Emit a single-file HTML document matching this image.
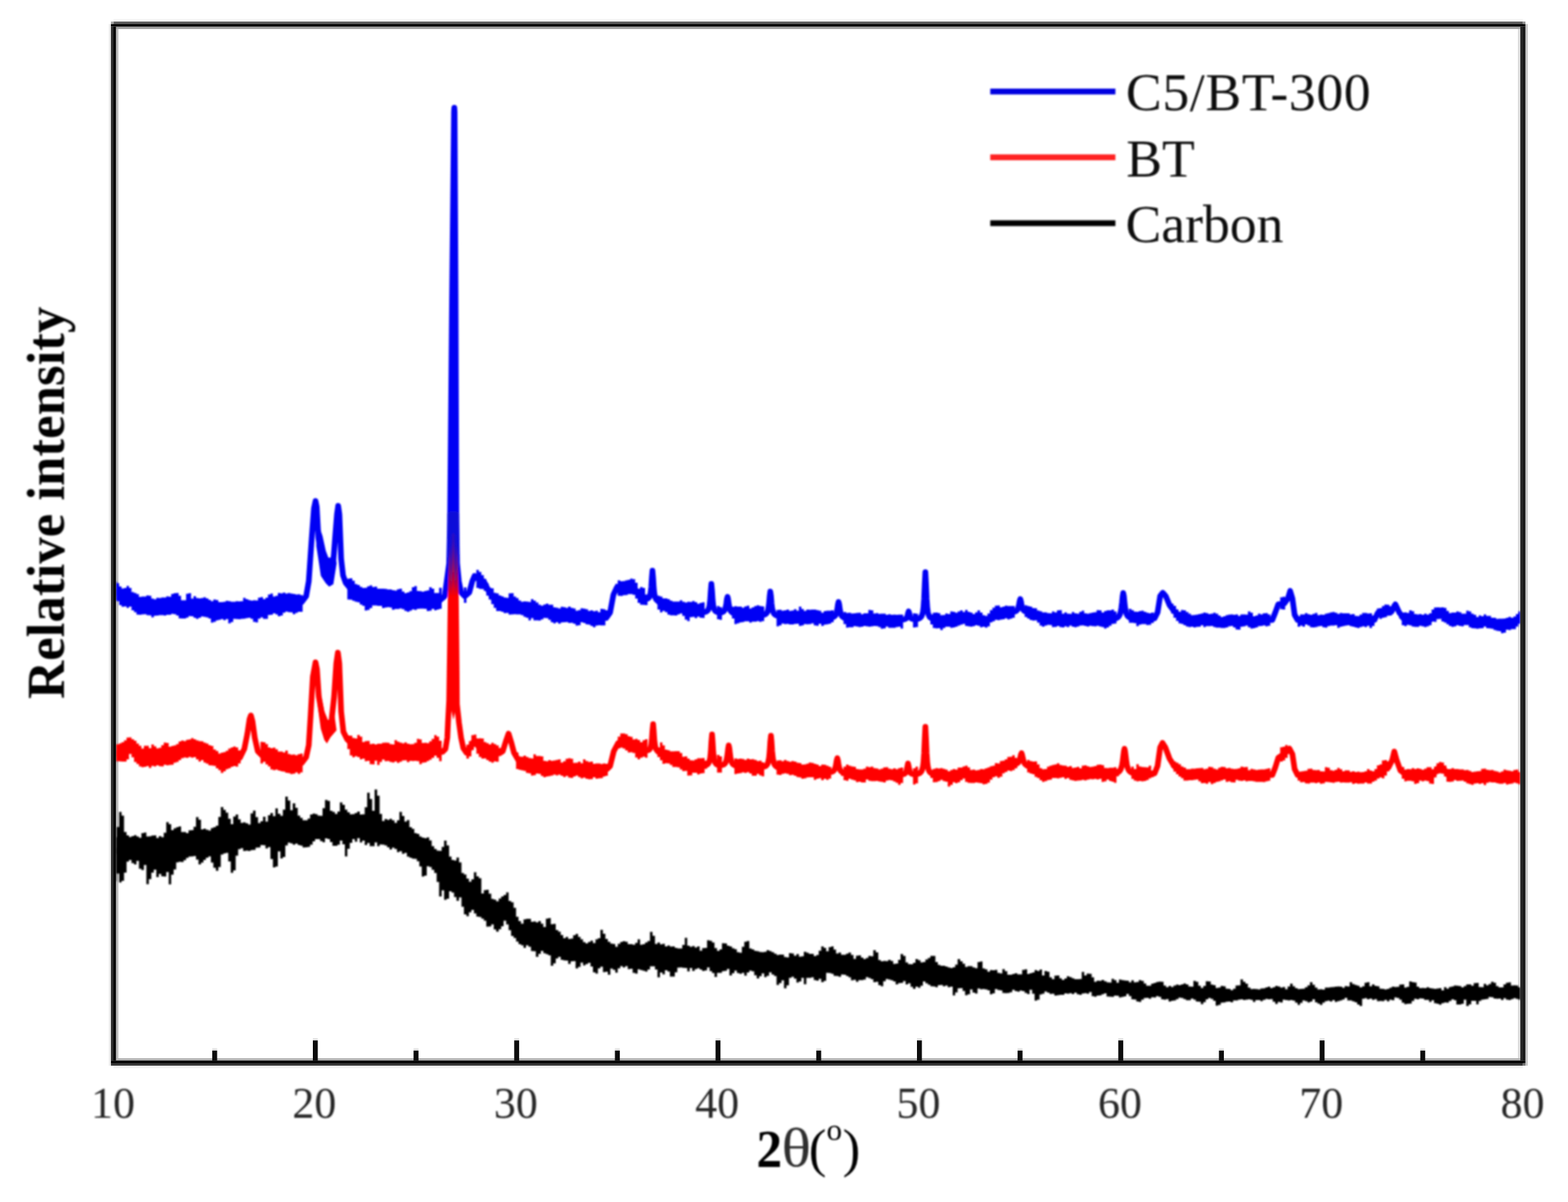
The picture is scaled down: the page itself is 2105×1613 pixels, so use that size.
<!DOCTYPE html>
<html lang="en">
<head>
<meta charset="utf-8">
<title>XRD patterns</title>
<style>
html,body{margin:0;padding:0;background:#fff;}
body{width:2105px;height:1613px;overflow:hidden;}
svg{display:block;font-family:"Liberation Serif","DejaVu Serif",serif;}
.tick text{font-size:59px;fill:#262626;}
.leg text{font-size:72px;fill:#0c0c0c;}
.axl{font-size:71px;fill:#000;}
.c{fill:none;stroke-linejoin:round;stroke-linecap:butt;}
</style>
</head>
<body>
<svg width="2105" height="1613" viewBox="0 0 2105 1613">
<defs>
<filter id="soft" x="-2%" y="-2%" width="104%" height="104%"><feGaussianBlur stdDeviation="1.25"/></filter>
<filter id="softt" x="-2%" y="-2%" width="104%" height="104%"><feGaussianBlur stdDeviation="0.9"/></filter>
<linearGradient id="fade" gradientUnits="userSpaceOnUse" x1="0" y1="690" x2="0" y2="800">
<stop offset="0" stop-color="#1010d8" stop-opacity="1"/><stop offset="0.35" stop-color="#1010d8" stop-opacity="0.8"/><stop offset="1" stop-color="#1010d8" stop-opacity="0"/>
</linearGradient>
<clipPath id="plot"><rect x="155.7" y="38.9" width="1885.3" height="1381.1"/></clipPath>
</defs>
<rect width="2105" height="1613" fill="#fff"/>
<rect x="155.7" y="38.9" width="3.3" height="1381.1" fill="#c0c0c0"/><rect x="2037.8" y="38.9" width="3.2" height="1381.1" fill="#dadada"/><rect x="155.7" y="35.7" width="1885.3" height="3.2" fill="#a0a0a0"/><rect x="155.7" y="1420" width="1885.3" height="3.2" fill="#b4b4b4"/>
<g filter="url(#soft)">
<g clip-path="url(#plot)">
<path fill="#000000" d="M153.2 1123.4H156.5V1109.8H159.9V1089.5H163.2V1094.6H166.5V1116.5H169.9V1120.9H173.2V1123.3H176.5V1122H179.9V1120.8H183.2V1122.4H186.5V1124.3H189.8V1118H193.2V1117.3H196.5V1122.5H199.8V1122.2H203.2V1121.2H206.5V1120.9H209.8V1124.6H213.2V1122H216.5V1123.4H219.8V1117.4H223.2V1103.3H226.5V1105.9H229.8V1113.9H233.1V1111.5H236.5V1109.9H239.8V1109H243.1V1116.4H246.5V1116.6H249.8V1118.1H253.1V1114.2H256.5V1113.9H259.8V1109.5H263.1V1096.4H266.5V1099.9H269.8V1113H273.1V1112.1H276.4V1113.5H279.8V1114.5H283.1V1111.2H286.4V1110H289.8V1107.9H293.1V1096.3H296.4V1083.1H299.8V1086.8H303.1V1090.5H306.4V1098.8H309.8V1106H313.1V1095.8H316.4V1092.9H319.7V1099.6H323.1V1104.2H326.4V1103.5H329.7V1104.7H333.1V1106.4H336.4V1091.5H339.7V1087.8H343.1V1096.6H346.4V1104.4H349.7V1102.1H353.1V1095.9H356.4V1102.6H359.7V1094.1H363V1091.1H366.4V1095.2H369.7V1084.8H373V1091.9H376.4V1094.7H379.7V1086.4H383V1069H386.4V1074.2H389.7V1087.3H393V1078.1H396.4V1083.9H399.7V1094.4H403V1097.5H406.3V1100.7H409.7V1100.7H413V1098.6H416.3V1093H419.7V1091.8H423V1092.5H426.3V1094.6H429.7V1094.7H433V1084.5H436.3V1073.4H439.7V1074.8H443V1088.1H446.3V1089.5H449.6V1092.3H453V1088.9H456.3V1076.8H459.6V1079.9H463V1086.6H466.3V1089.9H469.6V1092.7H473V1092.6H476.3V1091.1H479.6V1089H483V1092.9H486.3V1092.8H489.6V1083.3H492.9V1063.7H496.3V1072.2H499.6V1088H502.9V1059.5H506.3V1067.7H509.6V1092.2H512.9V1101.7H516.3V1098.9H519.6V1100.2H522.9V1098.8H526.2V1100.8H529.6V1104.2H532.9V1100.7H536.2V1089.6H539.6V1095H542.9V1102.6H546.2V1100.4H549.6V1110H552.9V1112.3H556.2V1118.1H559.6V1118.9H562.9V1122.5H566.2V1124.1H569.5V1124.8H572.9V1123.7H576.2V1127.8H579.5V1135.5H582.9V1139.2H586.2V1141.5H589.5V1141.7H592.9V1136.5H596.2V1128H599.5V1134.5H602.9V1149.6H606.2V1153.9H609.5V1154.7H612.8V1150.8H616.2V1157.3H619.5V1171.4H622.8V1173.5H626.2V1178.9H629.5V1183.2H632.8V1179.9H636.2V1170.5H639.5V1175.9H642.8V1178.5H646.2V1199H649.5V1194.6H652.8V1194H656.1V1199.2H659.5V1206.3H662.8V1207.2H666.1V1209.6H669.5V1205.8H672.8V1203H676.1V1200.9H679.5V1197.4H682.8V1208.9H686.1V1210.8H689.5V1218.3H692.8V1230.2H696.1V1236H699.4V1239.5H702.8V1233.7H706.1V1232.9H709.4V1233H712.8V1237H716.1V1236.5H719.4V1237.7H722.8V1235.9H726.1V1239.4H729.4V1244H732.8V1232.8H736.1V1232H739.4V1240.3H742.7V1239.7H746.1V1248H749.4V1250.2H752.7V1254.8H756.1V1259H759.4V1257.2H762.7V1259.9H766.1V1259.4H769.4V1255.1H772.7V1253.2H776.1V1257.2H779.4V1260.5H782.7V1264.2H786V1266H789.4V1263.9H792.7V1262.2H796V1265.4H799.4V1260.6H802.7V1258.9H806V1247.7H809.4V1253.1H812.7V1260H816V1263.8H819.4V1266.2H822.7V1266.8H826V1270.6H829.3V1266.6H832.7V1264H836V1263.1H839.3V1263.8H842.7V1267.1H846V1267.1H849.3V1267.8H852.7V1265.3H856V1260.5H859.3V1267.8H862.7V1267H866V1264.7H869.3V1262.7H872.6V1250.6H876V1255.8H879.3V1266.7H882.6V1264.8H886V1267.3H889.3V1266.5H892.6V1270.1H896V1268.7H899.3V1270.3H902.6V1270.1H905.9V1272.1H909.3V1272.8H912.6V1272.8H915.9V1268.1H919.3V1258.6H922.6V1269H925.9V1270.5H929.3V1269.6H932.6V1271.4H935.9V1269.9H939.3V1275.7H942.6V1272.2H945.9V1272.1H949.2V1261.7H952.6V1262.6H955.9V1264.8H959.2V1272.3H962.6V1276H965.9V1274H969.2V1265.8H972.6V1266.1H975.9V1268.9H979.2V1270.1H982.6V1272.4H985.9V1273.8H989.2V1277.8H992.5V1278.5H995.9V1270.5H999.2V1263.7H1002.5V1262.7H1005.9V1272.8H1009.2V1273.9H1012.5V1276.1H1015.9V1276.6H1019.2V1277.4H1022.5V1277.7H1025.9V1277.3H1029.2V1275.1H1032.5V1276.3H1035.8V1277.7H1039.2V1279.7H1042.5V1281.5H1045.8V1281H1049.2V1281H1052.5V1284.2H1055.8V1284.7H1059.2V1278.9H1062.5V1279.6H1065.8V1282.6H1069.2V1280.2H1072.5V1283.7H1075.8V1283.3H1079.1V1277.2H1082.5V1278.4H1085.8V1280.1H1089.1V1279.9H1092.5V1283.1H1095.8V1281.5H1099.1V1275.8H1102.5V1269.9H1105.8V1272H1109.1V1276.6H1112.5V1271.1H1115.8V1269.9H1119.1V1274.3H1122.4V1279.6H1125.8V1278.3H1129.1V1281.2H1132.4V1281.3H1135.8V1279.8H1139.1V1278.3H1142.4V1281.4H1145.8V1286.7H1149.1V1282.4H1152.4V1282H1155.8V1284.9H1159.1V1287H1162.4V1285.5H1165.7V1282.7H1169.1V1283.2H1172.4V1274.9H1175.7V1278.1H1179.1V1288.3H1182.4V1289.9H1185.7V1289.5H1189.1V1289.7H1192.4V1288.1H1195.7V1289.4H1199.1V1293.6H1202.4V1293.1H1205.7V1287.9H1209V1280.2H1212.4V1282.8H1215.7V1291.5H1219V1293.8H1222.4V1293.9H1225.7V1292.1H1229V1287.1H1232.4V1288.6H1235.7V1291.5H1239V1290.9H1242.3V1287.5H1245.7V1285.6H1249V1282.7H1252.3V1282.8H1255.7V1290.9H1259V1294.8H1262.3V1296.1H1265.7V1296H1269V1297H1272.3V1298.3H1275.7V1299H1279V1297.9H1282.3V1294.4H1285.6V1286.9H1289V1289.9H1292.3V1293.3H1295.6V1297.5H1299V1296.6H1302.3V1296.5H1305.6V1298.3H1309V1299.3H1312.3V1291H1315.6V1290.2H1319V1299.5H1322.3V1300.8H1325.6V1304H1328.9V1301.7H1332.3V1302H1335.6V1301.6H1338.9V1305.6H1342.3V1306.3H1345.6V1300.5H1348.9V1303.2H1352.3V1308.1H1355.6V1308H1358.9V1307.1H1362.3V1305.9H1365.6V1307.4H1368.9V1307.4H1372.2V1301.6H1375.6V1300.8H1378.9V1306.9H1382.2V1306.1H1385.6V1305H1388.9V1301.8H1392.2V1302.9H1395.6V1301H1398.9V1309.1H1402.2V1302.9H1405.6V1303.9H1408.9V1311.4H1412.2V1313.9H1415.5V1309.2H1418.9V1309H1422.2V1312.8H1425.5V1315H1428.9V1313H1432.2V1309.9H1435.5V1311.3H1438.9V1312.8H1442.2V1313.9H1445.5V1314.1H1448.9V1313.7H1452.2V1304.3H1455.5V1309.1H1458.8V1306.4H1462.2V1306.8H1465.5V1311.4H1468.8V1317.4H1472.2V1316H1475.5V1316.2H1478.8V1315H1482.2V1316.7H1485.5V1318.2H1488.8V1318.5H1492.2V1313.5H1495.5V1315.2H1498.8V1318.7H1502.1V1314.5H1505.5V1315.2H1508.8V1315.8H1512.1V1316H1515.5V1318.3H1518.8V1315.5H1522.1V1318.2H1525.5V1317.8H1528.8V1315.3H1532.1V1316.2H1535.5V1319.8H1538.8V1322.8H1542.1V1322.8H1545.4V1319.9H1548.8V1319H1552.1V1317.7H1555.4V1317.2H1558.8V1317.4H1562.1V1322.6H1565.4V1324.7H1568.8V1322.9H1572.1V1324.5H1575.4V1322.4H1578.8V1321.3H1582.1V1322H1585.4V1321H1588.7V1319.7H1592.1V1321.1H1595.4V1323.7H1598.7V1324H1602.1V1316.2H1605.4V1317.5H1608.7V1322.8H1612.1V1325.8H1615.4V1323H1618.7V1316.8H1622V1316.9H1625.4V1321.2H1628.7V1322H1632V1325.8H1635.4V1325.3H1638.7V1323.1H1642V1323.5H1645.4V1326.8H1648.7V1327H1652V1328.8H1655.4V1326.7H1658.7V1322.4H1662V1322.2H1665.3V1314.3H1668.7V1317.6H1672V1320H1675.3V1325.2H1678.7V1327.3H1682V1327H1685.3V1327.3H1688.7V1327.8H1692V1326.4H1695.3V1326.2H1698.7V1325H1702V1324H1705.3V1326.1H1708.6V1324.7H1712V1323.1H1715.3V1323.7H1718.6V1325.3H1722V1324.4H1725.3V1327.6H1728.6V1323.7H1732V1319.9H1735.3V1323.4H1738.6V1326.1H1742V1327.3H1745.3V1326.9H1748.6V1326.7H1751.9V1324.8H1755.3V1322.2H1758.6V1318H1761.9V1321.6H1765.3V1325.2H1768.6V1327.7H1771.9V1327.4H1775.3V1327.9H1778.6V1325.3H1781.9V1325.3H1785.3V1324.8H1788.6V1324.5H1791.9V1324H1795.2V1323.7H1798.6V1324H1801.9V1325.5H1805.2V1323.2H1808.6V1323.7H1811.9V1317.9H1815.2V1320.4H1818.6V1321.7H1821.9V1322.8H1825.2V1325.1H1828.6V1323.5H1831.9V1318.7H1835.2V1318.1H1838.5V1323.4H1841.9V1321.1H1845.2V1323H1848.5V1323.5H1851.9V1326.8H1855.2V1327.1H1858.5V1327.8H1861.9V1327H1865.2V1325.4H1868.5V1324.1H1871.9V1324.5H1875.2V1324.2H1878.5V1321.2H1881.8V1320.9H1885.2V1325.2H1888.5V1324.3H1891.8V1316.9H1895.2V1318.1H1898.5V1318.6H1901.8V1323.9H1905.2V1326.1H1908.5V1325.7H1911.8V1326H1915.2V1324.7H1918.5V1326.1H1921.8V1326.5H1925.1V1327H1928.5V1326.4H1931.8V1326H1935.1V1329H1938.5V1324.8H1941.8V1326.8H1945.1V1324.6H1948.5V1323.7H1951.8V1322.5H1955.1V1322.8H1958.4V1323.3H1961.8V1325H1965.1V1323.2H1968.4V1320.9H1971.8V1321.1H1975.1V1322.8H1978.4V1319.2H1981.8V1319.1H1985.1V1324.5H1988.4V1324.8H1991.8V1320.2H1995.1V1322.2H1998.4V1320.4H2001.7V1317.4H2005.1V1318.8H2008.4V1323.3H2011.7V1325.1H2015.1V1324.9H2018.4V1321.1H2021.7V1318.8H2025.1V1318.2H2028.4V1322.5H2031.7V1322.2H2035.1V1322.6H2038.4V1325H2041.7V1324H2045V1340.7H2041.7V1341.6H2038.4V1340.6H2035.1V1339.5H2031.7V1340.7H2028.4V1342.1H2025.1V1341.5H2021.7V1339.6H2018.4V1342H2015.1V1339.9H2011.7V1340.3H2008.4V1339.9H2005.1V1338.3H2001.7V1337.4H1998.4V1340.4H1995.1V1341H1991.8V1341.4H1988.4V1343.3H1985.1V1347.8H1981.8V1343.1H1978.4V1343H1975.1V1347.8H1971.8V1350H1968.4V1341.4H1965.1V1346.9H1961.8V1347.9H1958.4V1348H1955.1V1342.3H1951.8V1341.1H1948.5V1343.2H1945.1V1345.6H1941.8V1345.3H1938.5V1346.3H1935.1V1348.3H1931.8V1347H1928.5V1346.2H1925.1V1342.3H1921.8V1344.4H1918.5V1341.8H1915.2V1341.8H1911.8V1340H1908.5V1339.8H1905.2V1341.1H1901.8V1340.2H1898.5V1343.3H1895.2V1346.8H1891.8V1347.1H1888.5V1347.4H1885.2V1345.5H1881.8V1341.4H1878.5V1339.2H1875.2V1338.6H1871.9V1342.2H1868.5V1341.4H1865.2V1343.7H1861.9V1341.7H1858.5V1343.5H1855.2V1343.2H1851.9V1343.6H1848.5V1340.8H1845.2V1341.7H1841.9V1340.1H1838.5V1340.9H1835.2V1339.5H1831.9V1340.2H1828.6V1350.1H1825.2V1348.1H1821.9V1344.9H1818.6V1343.7H1815.2V1342.5H1811.9V1342.5H1808.6V1338.9H1805.2V1341.3H1801.9V1342.6H1798.6V1343.6H1795.2V1344.4H1791.9V1341.9H1788.6V1343.9H1785.3V1342.8H1781.9V1343.5H1778.6V1345.6H1775.3V1348.5H1771.9V1346.8H1768.6V1345.1H1765.3V1341.1H1761.9V1344H1758.6V1345.2H1755.3V1343.4H1751.9V1342.6H1748.6V1345.8H1745.3V1348.5H1742V1345.4H1738.6V1342.7H1735.3V1342H1732V1342.5H1728.6V1342H1725.3V1341.5H1722V1345.3H1718.6V1344.6H1715.3V1347.2H1712V1344.2H1708.6V1340.7H1705.3V1341.1H1702V1340.6H1698.7V1341.8H1695.3V1343.4H1692V1342.1H1688.7V1342H1685.3V1344.5H1682V1341.7H1678.7V1340.9H1675.3V1341.4H1672V1341.9H1668.7V1340.9H1665.3V1341.6H1662V1342.4H1658.7V1342.6H1655.4V1345H1652V1344H1648.7V1344.3H1645.4V1345.2H1642V1345.4H1638.7V1348.5H1635.4V1349.5H1632V1342.9H1628.7V1340.5H1625.4V1339.2H1622V1341H1618.7V1344.7H1615.4V1347.5H1612.1V1344.3H1608.7V1344H1605.4V1341.4H1602.1V1340.1H1598.7V1342.3H1595.4V1342.3H1592.1V1340.8H1588.7V1339.3H1585.4V1338.8H1582.1V1340.7H1578.8V1342.5H1575.4V1343.1H1572.1V1344H1568.8V1340.8H1565.4V1341.5H1562.1V1341H1558.8V1337.7H1555.4V1336.8H1552.1V1338.6H1548.8V1338.3H1545.4V1340.3H1542.1V1339.1H1538.8V1339.2H1535.5V1341.6H1532.1V1344.6H1528.8V1343.9H1525.5V1341.3H1522.1V1341H1518.8V1336.7H1515.5V1333.8H1512.1V1337H1508.8V1337.8H1505.5V1338.4H1502.1V1336.3H1498.8V1336.1H1495.5V1337.8H1492.2V1337.5H1488.8V1337.2H1485.5V1333.1H1482.2V1334.2H1478.8V1335.8H1475.5V1336.1H1472.2V1337.6H1468.8V1336.7H1465.5V1331.2H1462.2V1333.4H1458.8V1332.7H1455.5V1333.3H1452.2V1335H1448.9V1334.2H1445.5V1332.1H1442.2V1334H1438.9V1332.8H1435.5V1333.6H1432.2V1333.1H1428.9V1335.1H1425.5V1335.1H1422.2V1335.5H1418.9V1336H1415.5V1333.4H1412.2V1333.8H1408.9V1332.1H1405.6V1330.4H1402.2V1333.6H1398.9V1334.6H1395.6V1341.4H1392.2V1342.7H1388.9V1333.6H1385.6V1328.3H1382.2V1334H1378.9V1332.5H1375.6V1329.9H1372.2V1329.2H1368.9V1330.7H1365.6V1330.1H1362.3V1328.3H1358.9V1331.6H1355.6V1332.5H1352.3V1332.8H1348.9V1332.4H1345.6V1328.9H1342.3V1328.6H1338.9V1327.3H1335.6V1332.9H1332.3V1334.2H1328.9V1328.9H1325.6V1327.8H1322.3V1327.3H1319V1327.6H1315.6V1326.4H1312.3V1333.3H1309V1331.9H1305.6V1327.7H1302.3V1334.2H1299V1335.4H1295.6V1329.8H1292.3V1326H1289V1326.2H1285.6V1331.7H1282.3V1335.7H1279V1324H1275.7V1324.7H1272.3V1322.6H1269V1323.5H1265.7V1321.7H1262.3V1322H1259V1324.8H1255.7V1323.8H1252.3V1323.4H1249V1321.4H1245.7V1319.6H1242.3V1317.1H1239V1322.8H1235.7V1325.4H1232.4V1323.9H1229V1327H1225.7V1324.3H1222.4V1319.6H1219V1321.1H1215.7V1316.4H1212.4V1319.1H1209V1319.2H1205.7V1321.1H1202.4V1316.9H1199.1V1315.5H1195.7V1314.6H1192.4V1313.8H1189.1V1316.7H1185.7V1323.5H1182.4V1322.1H1179.1V1317.6H1175.7V1318H1172.4V1314.1H1169.1V1312.4H1165.7V1311.2H1162.4V1314.5H1159.1V1315.2H1155.8V1315.2H1152.4V1317.5H1149.1V1314.7H1145.8V1315.5H1142.4V1311.4H1139.1V1309.8H1135.8V1308H1132.4V1307.8H1129.1V1310.8H1125.8V1309.8H1122.4V1309.6H1119.1V1306.8H1115.8V1305.8H1112.5V1305.6H1109.1V1316.2H1105.8V1318H1102.5V1313.6H1099.1V1315.9H1095.8V1315.3H1092.5V1311.6H1089.1V1312.3H1085.8V1312.3H1082.5V1320.7H1079.1V1312.2H1075.8V1316.9H1072.5V1318.5H1069.2V1313.2H1065.8V1310.8H1062.5V1312.3H1059.2V1322.2H1055.8V1326.3H1052.5V1315.6H1049.2V1319.3H1045.8V1321.8H1042.5V1309.7H1039.2V1307.7H1035.8V1304.7H1032.5V1309.5H1029.2V1311.2H1025.9V1306.3H1022.5V1309.9H1019.2V1313H1015.9V1308.7H1012.5V1303.4H1009.2V1302.6H1005.9V1304.9H1002.5V1309.3H999.2V1305.6H995.9V1306.8H992.5V1305.8H989.2V1302.4H985.9V1306H982.6V1308.9H979.2V1300.2H975.9V1302.8H972.6V1303.3H969.2V1305.4H965.9V1305.6H962.6V1311.1H959.2V1305.7H955.9V1303.3H952.6V1298.3H949.2V1302.2H945.9V1303.1H942.6V1300.9H939.3V1299.3H935.9V1300.4H932.6V1302.9H929.3V1298.9H925.9V1303.5H922.6V1298.9H919.3V1298.7H915.9V1298.3H912.6V1298.4H909.3V1304.8H905.9V1310.5H902.6V1310.5H899.3V1303.8H896V1301.9H892.6V1307.4H889.3V1305H886V1311.4H882.6V1301.1H879.3V1296.8H876V1296.8H872.6V1300.9H869.3V1303.7H866V1302.8H862.7V1301.8H859.3V1300.8H856V1306.5H852.7V1305.5H849.3V1299.9H846V1300.5H842.7V1296.6H839.3V1298.3H836V1296.4H832.7V1299.5H829.3V1305.2H826V1301.6H822.7V1299.7H819.4V1308H816V1304.1H812.7V1304.4H809.4V1297.2H806V1299.5H802.7V1306.4H799.4V1304.8H796V1297.1H792.7V1291.9H789.4V1293.7H786V1295.5H782.7V1291.7H779.4V1297.5H776.1V1299.5H772.7V1289.7H769.4V1289.9H766.1V1293.6H762.7V1289H759.4V1288.8H756.1V1287.9H752.7V1283.9H749.4V1286.2H746.1V1292.8H742.7V1296.1H739.4V1281.9H736.1V1280.4H732.8V1279.3H729.4V1276.1H726.1V1280H722.8V1284H719.4V1276.5H716.1V1276.3H712.8V1270.6H709.4V1268.5H706.1V1271.9H702.8V1268.6H699.4V1267.1H696.1V1263.6H692.8V1258.8H689.5V1256.1H686.1V1248.3H682.8V1240.6H679.5V1235.5H676.1V1243H672.8V1246.9H669.5V1250.3H666.1V1247.2H662.8V1240.6H659.5V1243.3H656.1V1243.5H652.8V1235.5H649.5V1232.7H646.2V1230.4H642.8V1230H639.5V1225.8H636.2V1221.1H632.8V1224.3H629.5V1229.4H626.2V1227.1H622.8V1216.8H619.5V1204.2H616.2V1208.7H612.8V1203.8H609.5V1197.7H606.2V1196H602.9V1206H599.5V1207.6H596.2V1194.7H592.9V1203.1H589.5V1183.5H586.2V1171.6H582.9V1167.3H579.5V1163.6H576.2V1162.6H572.9V1174.9H569.5V1176.2H566.2V1162.8H562.9V1155.7H559.6V1152.5H556.2V1152.3H552.9V1151H549.6V1149.6H546.2V1144.6H542.9V1145.7H539.6V1142.3H536.2V1143.5H532.9V1139.3H529.6V1137.5H526.2V1140H522.9V1137H519.6V1134.6H516.3V1133.4H512.9V1133.3H509.6V1135.6H506.3V1130.4H502.9V1135.4H499.6V1135.4H496.3V1131.3H492.9V1134H489.6V1127.9H486.3V1130.6H483V1124.8H479.6V1129.4H476.3V1126H473V1130.9H469.6V1139.1H466.3V1149.2H463V1133H459.6V1128.1H456.3V1133.4H453V1135H449.6V1135H446.3V1129.9H443V1126.1H439.7V1125H436.3V1130.2H433V1128.7H429.7V1125.9H426.3V1126H423V1128.9H419.7V1133.6H416.3V1136.6H413V1137H409.7V1137.2H406.3V1134.7H403V1133.9H399.7V1132.1H396.4V1133.4H393V1131.8H389.7V1130.8H386.4V1134.6H383V1149.9H379.7V1152.1H376.4V1142.6H373V1162.7H369.7V1164.1H366.4V1152.8H363V1136.8H359.7V1138.6H356.4V1134.2H353.1V1133.9H349.7V1137.2H346.4V1137.4H343.1V1140.4H339.7V1140.7H336.4V1142.1H333.1V1141.4H329.7V1141.9H326.4V1138.2H323.1V1139.4H319.7V1148.2H316.4V1167.9H313.1V1171.2H309.8V1156.1H306.4V1144.5H303.1V1145.2H299.8V1146.8H296.4V1163.6H293.1V1168.4H289.8V1164.5H286.4V1157.4H283.1V1149.2H279.8V1150.9H276.4V1154H273.1V1157.6H269.8V1160H266.5V1153.4H263.1V1148.8H259.8V1149.3H256.5V1149.4H253.1V1151.2H249.8V1154.3H246.5V1156.7H243.1V1156.5H239.8V1157.2H236.5V1166.8H233.1V1173.8H229.8V1186.7H226.5V1170.3H223.2V1176.3H219.8V1176.1H216.5V1172.8H213.2V1177H209.8V1167.1H206.5V1170.9H203.2V1179.8H199.8V1186.5H196.5V1160.7H193.2V1167.4H189.8V1165.8H186.5V1155.2H183.2V1159.9H179.9V1158.3H176.5V1154H173.2V1156.3H169.9V1170.9H166.5V1182.1H163.2V1184.3H159.9V1172.2H156.5V1182.4H153.2Z"/>
<path class="c" stroke="#000000" stroke-width="7.6" d="M154 1141.9 227.3 1139.9 284.7 1129.6 343 1121.7 393.8 1116.4 444.6 1110 484.6 1110.1 515.4 1116.2 544.5 1128.3 572 1143 603.6 1172.7 636.1 1209.1 659 1228 666.1 1225.9 672 1219 678 1215 684 1224 691 1244 699 1252 731 1264 766.8 1272.3 802 1284 847.6 1284.1 906.7 1285.1 1152.4 1298.2 1298.1 1314.3 1347.2 1318.4 1440.5 1324.5 1519.6 1329.8 1557.1 1332 1689.5 1334 1812.7 1334.4 1955.1 1334 2042.5 1334"/>
<path fill="#0000f4" d="M153.2 780.1H156.5V782.4H159.9V787H163.2V789.8H166.5V789.1H169.9V786.3H173.2V789H176.5V794.5H179.9V795.8H183.2V797.3H186.5V801.1H189.8V800.4H193.2V800.5H196.5V799.1H199.8V799.4H203.2V803.3H206.5V804.3H209.8V802.2H213.2V802.4H216.5V801.7H219.8V801.8H223.2V800.3H226.5V800.8H229.8V797H233.1V795.9H236.5V795.7H239.8V799.6H243.1V805.5H246.5V805.6H249.8V796.7H253.1V796H256.5V803.3H259.8V800H263.1V802.6H266.5V802.9H269.8V802.6H273.1V801.6H276.4V803.1H279.8V805H283.1V806.7H286.4V804.6H289.8V805.3H293.1V808.1H296.4V807.9H299.8V807.4H303.1V806.2H306.4V806.8H309.8V807.6H313.1V807.5H316.4V806.7H319.7V807H323.1V806.7H326.4V802.3H329.7V804H333.1V805.3H336.4V806.1H339.7V805.5H343.1V805.7H346.4V802H349.7V801.2H353.1V803.9H356.4V802H359.7V797.7H363V796.4H366.4V800.4H369.7V799.5H373V795.7H376.4V796.2H379.7V795.3H383V796.4H386.4V795.8H389.7V796.6H393V797.1H396.4V797.7H399.7V797.5H403V798.5H406.3V803.5H409.7V795.3H413V770.6H416.3V724.2H419.7V683.8H423V683.7H426.3V725.8H429.7V745.2H433V753H436.3V749.5H439.7V754.4H443V763.5H446.3V742H449.6V699.7H453V689.7H456.3V749H459.6V775.2H463V781.5H466.3V776.4H469.6V775.9H473V779.2H476.3V783.8H479.6V784.9H483V787.6H486.3V788.9H489.6V788.7H492.9V786.7H496.3V785.6H499.6V787.8H502.9V787.3H506.3V789.9H509.6V790H512.9V790H516.3V790.2H519.6V790.9H522.9V790.9H526.2V792H529.6V792.5H532.9V790.8H536.2V790.1H539.6V793.7H542.9V796.1H546.2V794.9H549.6V793.2H552.9V788.1H556.2V786.5H559.6V792.9H562.9V793.2H566.2V794H569.5V793.1H572.9V792.3H576.2V788.1H579.5V789.9H582.9V795.8H586.2V795.7H589.5V788.8H592.9V801.8H596.2V790.9H599.5V766.5H602.9V614H606.2V272.7H609.5V417.4H612.8V768.7H616.2V790.6H619.5V797.5H622.8V788.2H626.2V796.5H629.5V789.2H632.8V778.1H636.2V769.8H639.5V764.8H642.8V767.6H646.2V771.7H649.5V776.8H652.8V782.7H656.1V788.7H659.5V789.4H662.8V795.5H666.1V796.2H669.5V798.9H672.8V800.2H676.1V801.8H679.5V802.3H682.8V796.3H686.1V796H689.5V800.6H692.8V802.5H696.1V805.8H699.4V807.4H702.8V807H706.1V807.3H709.4V807.8H712.8V804H716.1V806.1H719.4V808.5H722.8V811.5H726.1V812.7H729.4V811.3H732.8V810H736.1V811.5H739.4V811.6H742.7V814.9H746.1V815.6H749.4V816.6H752.7V814.3H756.1V814.8H759.4V815.8H762.7V814.1H766.1V815.8H769.4V816.4H772.7V819.4H776.1V818.7H779.4V816.3H782.7V816.8H786V817.6H789.4V819.8H792.7V819H796V820.3H799.4V819.6H802.7V821.6H806V817.1H809.4V817.6H812.7V818.9H816V823H819.4V809.2H822.7V795.4H826V783.5H829.3V778.7H832.7V780H836V779.7H839.3V778.8H842.7V777.9H846V776.6H849.3V777.3H852.7V782H856V790.1H859.3V787.8H862.7V789H866V797.8H869.3V801.4H872.6V781.1H876V790.3H879.3V804.7H882.6V799.6H886V800.4H889.3V803H892.6V803H896V804.1H899.3V806.1H902.6V807.2H905.9V807.2H909.3V807.3H912.6V805.5H915.9V807.4H919.3V808.5H922.6V807.6H925.9V807.8H929.3V806.5H932.6V808.1H935.9V810.3H939.3V809.1H942.6V808.3H945.9V820.7H949.2V816.4H952.6V793.6H955.9V813.1H959.2V820.6H962.6V813.2H965.9V814.8H969.2V820.4H972.6V811.5H975.9V807.5H979.2V820H982.6V814.3H985.9V813.5H989.2V813.9H992.5V814H995.9V815.6H999.2V813.7H1002.5V812.8H1005.9V816.4H1009.2V814.9H1012.5V813.3H1015.9V812.3H1019.2V813.2H1022.5V813.8H1025.9V823.9H1029.2V816.6H1032.5V800.8H1035.8V820.3H1039.2V825.2H1042.5V818.6H1045.8V818.3H1049.2V819.6H1052.5V819.1H1055.8V818H1059.2V819.7H1062.5V819.2H1065.8V817.6H1069.2V819.5H1072.5V814.1H1075.8V817.2H1079.1V819.7H1082.5V818.1H1085.8V818.2H1089.1V817.9H1092.5V817.9H1095.8V818.7H1099.1V819.6H1102.5V822.2H1105.8V820H1109.1V819.5H1112.5V819.5H1115.8V818.9H1119.1V826.1H1122.4V814.3H1125.8V818.5H1129.1V827.5H1132.4V821.3H1135.8V822.6H1139.1V822.3H1142.4V823.3H1145.8V822.9H1149.1V822.6H1152.4V822.2H1155.8V824.3H1159.1V822.9H1162.4V823H1165.7V818.5H1169.1V819.1H1172.4V823.3H1175.7V822.7H1179.1V823.7H1182.4V823.6H1185.7V823.4H1189.1V825H1192.4V824.3H1195.7V825H1199.1V824.8H1202.4V825H1205.7V824.7H1209V824.8H1212.4V830.8H1215.7V827.1H1219V824.7H1222.4V830.3H1225.7V823H1229V823.5H1232.4V829.1H1235.7V825H1239V792.2H1242.3V805.5H1245.7V827H1249V824.4H1252.3V822.3H1255.7V822H1259V822.8H1262.3V825.5H1265.7V825.3H1269V823.3H1272.3V823.9H1275.7V820.5H1279V821H1282.3V822.3H1285.6V820.5H1289V819H1292.3V821.2H1295.6V818.5H1299V821H1302.3V822.1H1305.6V823.9H1309V821.8H1312.3V818.9H1315.6V822H1319V825.6H1322.3V826.5H1325.6V823.3H1328.9V818.7H1332.3V815.6H1335.6V812.7H1338.9V812.4H1342.3V815.1H1345.6V814H1348.9V812.7H1352.3V813.3H1355.6V813.3H1358.9V813.3H1362.3V819.6H1365.6V812.4H1368.9V809.1H1372.2V818.8H1375.6V812.3H1378.9V813.3H1382.2V813.9H1385.6V816H1388.9V816.3H1392.2V819.2H1395.6V820.3H1398.9V821.7H1402.2V821.7H1405.6V822.8H1408.9V823H1412.2V820.6H1415.5V821.7H1418.9V819.1H1422.2V818.7H1425.5V823.6H1428.9V821.8H1432.2V823.4H1435.5V823.7H1438.9V821.2H1442.2V822.9H1445.5V823.5H1448.9V821.1H1452.2V819.5H1455.5V822.9H1458.8V823.6H1462.2V822.7H1465.5V822H1468.8V821.5H1472.2V818.8H1475.5V818.9H1478.8V822H1482.2V819.9H1485.5V818.9H1488.8V819.1H1492.2V818.1H1495.5V820.6H1498.8V828.1H1502.1V821.2H1505.5V801.1H1508.8V816.7H1512.1V826.9H1515.5V817H1518.8V818.8H1522.1V820.7H1525.5V821.1H1528.8V820.1H1532.1V819.6H1535.5V821H1538.8V822.3H1542.1V823H1545.4V822.1H1548.8V828.1H1552.1V819.5H1555.4V802.1H1558.8V796.5H1562.1V794.6H1565.4V800.9H1568.8V807.4H1572.1V809.9H1575.4V813.1H1578.8V817.8H1582.1V821.1H1585.4V818.4H1588.7V819.1H1592.1V821.3H1595.4V823.4H1598.7V825.4H1602.1V825.2H1605.4V824.8H1608.7V823.9H1612.1V823.3H1615.4V822H1618.7V822.8H1622V823.9H1625.4V823.5H1628.7V822.2H1632V823.4H1635.4V826.1H1638.7V828H1642V826.9H1645.4V825.5H1648.7V824.8H1652V824.4H1655.4V825H1658.7V824.6H1662V826.5H1665.3V824.4H1668.7V824.4H1672V824.8H1675.3V820.4H1678.7V822.3H1682V826.9H1685.3V826H1688.7V823.6H1692V824.4H1695.3V822.9H1698.7V822.8H1702V824.4H1705.3V827.6H1708.6V821.9H1712V813.1H1715.3V807.4H1718.6V801.6H1722V800.7H1725.3V805.1H1728.6V797.4H1732V799.9H1735.3V819.3H1738.6V829.7H1742V827H1745.3V824.5H1748.6V824.6H1751.9V822.8H1755.3V824.2H1758.6V825H1761.9V823.8H1765.3V822.6H1768.6V825.4H1771.9V824.8H1775.3V825.1H1778.6V823.4H1781.9V822.7H1785.3V821.7H1788.6V821.2H1791.9V822.2H1795.2V823.7H1798.6V822.4H1801.9V822.9H1805.2V823.1H1808.6V823H1811.9V824.5H1815.2V823.9H1818.6V826.6H1821.9V826.8H1825.2V824.8H1828.6V822.5H1831.9V822.5H1835.2V823.3H1838.5V823.1H1841.9V826H1845.2V822.6H1848.5V816.5H1851.9V816.1H1855.2V813.2H1858.5V811.3H1861.9V811.5H1865.2V813.6H1868.5V810.5H1871.9V808.6H1875.2V814.6H1878.5V820.2H1881.8V821.9H1885.2V821.7H1888.5V822.5H1891.8V819.1H1895.2V820.3H1898.5V824.1H1901.8V824.6H1905.2V823.9H1908.5V824.9H1911.8V823.6H1915.2V824.8H1918.5V822.9H1921.8V818.1H1925.1V815.3H1928.5V814.9H1931.8V815.3H1935.1V815H1938.5V815.7H1941.8V819.8H1945.1V822.7H1948.5V821.9H1951.8V822.1H1955.1V820.6H1958.4V821.5H1961.8V823.5H1965.1V823.4H1968.4V819.6H1971.8V820.5H1975.1V823.6H1978.4V825.1H1981.8V828.1H1985.1V825.7H1988.4V826.9H1991.8V824.4H1995.1V826.6H1998.4V826.5H2001.7V829.1H2005.1V829.1H2008.4V830.4H2011.7V830.3H2015.1V830.2H2018.4V830.1H2021.7V829H2025.1V827.8H2028.4V829.1H2031.7V827.2H2035.1V824H2038.4V820.5H2041.7V819.1H2045V835.6H2041.7V837.1H2038.4V840.8H2035.1V844.2H2031.7V844.2H2028.4V845.6H2025.1V845.1H2021.7V849.1H2018.4V849.7H2015.1V847H2011.7V846.5H2008.4V845.5H2005.1V843.8H2001.7V843.2H1998.4V842.9H1995.1V840.8H1991.8V843.1H1988.4V843.3H1985.1V843.8H1981.8V843.2H1978.4V843H1975.1V841.7H1971.8V838.8H1968.4V838.8H1965.1V840.4H1961.8V839.9H1958.4V839.1H1955.1V840.5H1951.8V841.3H1948.5V840.1H1945.1V837.8H1941.8V835.6H1938.5V834.1H1935.1V830.4H1931.8V830.7H1928.5V834.6H1925.1V834H1921.8V839H1918.5V840.5H1915.2V841.6H1911.8V840.6H1908.5V839.7H1905.2V841.2H1901.8V841.3H1898.5V840.7H1895.2V839.2H1891.8V838.6H1888.5V840.3H1885.2V838.9H1881.8V830.3H1878.5V824.6H1875.2V818.6H1871.9V821.3H1868.5V826.1H1865.2V826.2H1861.9V828.2H1858.5V829H1855.2V830.5H1851.9V828.5H1848.5V834.3H1845.2V839.9H1841.9V842.7H1838.5V839.8H1835.2V841.4H1831.9V840.5H1828.6V841.5H1825.2V842.8H1821.9V841.9H1818.6V841.1H1815.2V840.2H1811.9V838.9H1808.6V839.5H1805.2V840.2H1801.9V840.9H1798.6V842.4H1795.2V839.1H1791.9V839.4H1788.6V839.5H1785.3V840.2H1781.9V842.3H1778.6V841.7H1775.3V840H1771.9V840.5H1768.6V841.5H1765.3V842H1761.9V841.7H1758.6V839.4H1755.3V838.1H1751.9V840.9H1748.6V839.6H1745.3V840.9H1742V829.7H1738.6V819.3H1735.3V799.9H1732V797.4H1728.6V805.7H1725.3V817.9H1722V817.5H1718.6V812.7H1715.3V818H1712V827.4H1708.6V835.1H1705.3V839.7H1702V840.5H1698.7V839.2H1695.3V839.9H1692V840.2H1688.7V842.1H1685.3V843.1H1682V843.6H1678.7V841.7H1675.3V839.5H1672V840.5H1668.7V841.1H1665.3V845.1H1662V844.8H1658.7V842.1H1655.4V840H1652V840.5H1648.7V842.1H1645.4V842.8H1642V842.7H1638.7V842.2H1635.4V842.3H1632V841.5H1628.7V839.9H1625.4V840.2H1622V840.2H1618.7V841.5H1615.4V839H1612.1V840.9H1608.7V841.3H1605.4V841.9H1602.1V840.9H1598.7V841.4H1595.4V840.8H1592.1V839H1588.7V837.2H1585.4V836.4H1582.1V833.3H1578.8V828.9H1575.4V823.3H1572.1V816.2H1568.8V809.8H1565.4V802.7H1562.1V796.5H1558.8V802.1H1555.4V819.5H1552.1V828.1H1548.8V835.9H1545.4V838.4H1542.1V838.8H1538.8V837.4H1535.5V837.5H1532.1V838.3H1528.8V840.2H1525.5V836.3H1522.1V835.7H1518.8V835.7H1515.5V826.9H1512.1V816.7H1508.8V801.1H1505.5V821.2H1502.1V828.1H1498.8V836.7H1495.5V837.2H1492.2V839.7H1488.8V842H1485.5V843.4H1482.2V841.5H1478.8V840.7H1475.5V839.7H1472.2V840.6H1468.8V840.3H1465.5V839.7H1462.2V840.7H1458.8V840.1H1455.5V839.2H1452.2V839.5H1448.9V840.7H1445.5V841.7H1442.2V841.1H1438.9V839.5H1435.5V841.4H1432.2V840.4H1428.9V841.9H1425.5V841.6H1422.2V839.9H1418.9V841.2H1415.5V841.4H1412.2V838.7H1408.9V838.4H1405.6V839.5H1402.2V841H1398.9V839.5H1395.6V835.5H1392.2V832.5H1388.9V832.8H1385.6V831.9H1382.2V830.1H1378.9V828H1375.6V818.8H1372.2V809.1H1368.9V812.4H1365.6V819.6H1362.3V829H1358.9V830.2H1355.6V831.3H1352.3V829.7H1348.9V831H1345.6V831.6H1342.3V832.2H1338.9V831.8H1335.6V833.7H1332.3V835.2H1328.9V840.4H1325.6V842.2H1322.3V841H1319V841.7H1315.6V839.7H1312.3V839.1H1309V840.2H1305.6V841.1H1302.3V840.4H1299V840H1295.6V837.2H1292.3V838.3H1289V839.5H1285.6V841H1282.3V842H1279V842.6H1275.7V841.1H1272.3V841.1H1269V842.7H1265.7V845.6H1262.3V843H1259V843.3H1255.7V842.7H1252.3V838H1249V827H1245.7V805.5H1242.3V792.2H1239V825H1235.7V830H1232.4V841.6H1229V842H1225.7V830.3H1222.4V824.7H1219V827.1H1215.7V831.1H1212.4V843.6H1209V841.1H1205.7V841.6H1202.4V842.5H1199.1V842.5H1195.7V842.6H1192.4V840.8H1189.1V843.3H1185.7V843.7H1182.4V841.5H1179.1V840.2H1175.7V840.1H1172.4V840.5H1169.1V840.9H1165.7V840.4H1162.4V840.1H1159.1V841H1155.8V841.5H1152.4V840.7H1149.1V840.3H1145.8V841.7H1142.4V841.8H1139.1V842.2H1135.8V837.6H1132.4V827.5H1129.1V818.5H1125.8V814.3H1122.4V826.1H1119.1V834.9H1115.8V836.9H1112.5V837.8H1109.1V838.2H1105.8V839.9H1102.5V836.9H1099.1V839.8H1095.8V839.2H1092.5V836.5H1089.1V837.6H1085.8V837.7H1082.5V837.5H1079.1V839.3H1075.8V839.9H1072.5V837H1069.2V837.2H1065.8V838H1062.5V837.9H1059.2V837.3H1055.8V837.5H1052.5V836.8H1049.2V839.3H1045.8V840.4H1042.5V825.2H1039.2V820.3H1035.8V800.8H1032.5V816.6H1029.2V823.9H1025.9V833.4H1022.5V834.5H1019.2V833.4H1015.9V834.2H1012.5V834.3H1009.2V835.4H1005.9V833.7H1002.5V833.7H999.2V834.7H995.9V835.3H992.5V836.4H989.2V837.5H985.9V829.9H982.6V820H979.2V807.5H975.9V811.5H972.6V820.4H969.2V831.7H965.9V830.9H962.6V820.6H959.2V813.1H955.9V793.6H952.6V816.4H949.2V820.7H945.9V829.3H942.6V829.1H939.3V827.4H935.9V829.5H932.6V827.8H929.3V828.2H925.9V833.6H922.6V831.5H919.3V826.5H915.9V823.3H912.6V824.4H909.3V825.9H905.9V825.7H902.6V825.8H899.3V824.8H896V821.5H892.6V819.8H889.3V821.8H886V818H882.6V804.7H879.3V790.3H876V781.1H872.6V801.4H869.3V811.9H866V811.7H862.7V811.4H859.3V809.1H856V803.3H852.7V798.2H849.3V797.3H846V797.3H842.7V798.5H839.3V798.8H836V799.7H832.7V799.5H829.3V795.6H826V795.4H822.7V809.2H819.4V823H816V832.7H812.7V839.2H809.4V839.2H806V839H802.7V839.6H799.4V841.8H796V840H792.7V838.2H789.4V837.8H786V836H782.7V834.9H779.4V839.1H776.1V839.4H772.7V836.9H769.4V835.8H766.1V836.1H762.7V834.8H759.4V835.1H756.1V835.3H752.7V836.9H749.4V835H746.1V836.5H742.7V834.9H739.4V831.7H736.1V829.5H732.8V829.3H729.4V831.2H726.1V832.8H722.8V832.4H719.4V832.6H716.1V829.5H712.8V832.4H709.4V828.9H706.1V827.7H702.8V825.5H699.4V824.4H696.1V824.6H692.8V824.3H689.5V824.4H686.1V824.8H682.8V822.4H679.5V822.7H676.1V821H672.8V820.1H669.5V819.9H666.1V815.8H662.8V810.8H659.5V804.5H656.1V799.3H652.8V792.9H649.5V790.4H646.2V790.3H642.8V789.1H639.5V779.4H636.2V778.1H632.8V789.2H629.5V796.5H626.2V809.1H622.8V797.5H619.5V790.6H616.2V768.7H612.8V417.4H609.5V272.7H606.2V614H602.9V766.5H599.5V790.9H596.2V801.8H592.9V817H589.5V818H586.2V819.1H582.9V817.1H579.5V819.5H576.2V820.1H572.9V817H569.5V816.8H566.2V816.8H562.9V816.9H559.6V818.6H556.2V817.8H552.9V819.5H549.6V821H546.2V819.7H542.9V817.5H539.6V816.6H536.2V817.3H532.9V817.3H529.6V818.3H526.2V815.2H522.9V814.8H519.6V815.3H516.3V816H512.9V812.9H509.6V813H506.3V812.6H502.9V812.4H499.6V815.9H496.3V818.6H492.9V819.3H489.6V813H486.3V811.2H483V808.2H479.6V807.6H476.3V806.3H473V804.8H469.6V804.4H466.3V785H463V775.2H459.6V749H456.3V689.7H453V699.7H449.6V742H446.3V763.5H443V774.2H439.7V768.6H436.3V753H433V745.2H429.7V725.8H426.3V683.7H423V683.8H419.7V724.2H416.3V770.6H413V795.3H409.7V803.5H406.3V821.1H403V820.9H399.7V822.6H396.4V824.2H393V821.7H389.7V821.6H386.4V820.7H383V822.2H379.7V826H376.4V826.9H373V824.5H369.7V823.1H366.4V824.9H363V825.3H359.7V830.5H356.4V830.4H353.1V828.4H349.7V830.2H346.4V835.3H343.1V834.5H339.7V830.5H336.4V829.1H333.1V829.4H329.7V830.3H326.4V830.6H323.1V831.1H319.7V830.7H316.4V830.6H313.1V834.8H309.8V836.6H306.4V830.8H303.1V832.2H299.8V830.8H296.4V831.7H293.1V832.5H289.8V834.4H286.4V835.6H283.1V830.1H279.8V828.5H276.4V827.7H273.1V827.3H269.8V828.9H266.5V830.4H263.1V829H259.8V826.9H256.5V826.7H253.1V828.7H249.8V830H246.5V829.9H243.1V829.7H239.8V826.1H236.5V824.3H233.1V823.8H229.8V825.1H226.5V825.1H223.2V826.1H219.8V825.6H216.5V825.5H213.2V825.9H209.8V826.2H206.5V828.4H203.2V825.7H199.8V825.6H196.5V824.3H193.2V824.5H189.8V825.1H186.5V824.7H183.2V821.4H179.9V819H176.5V814H173.2V815.8H169.9V813.7H166.5V814.2H163.2V811.9H159.9V806.8H156.5V805.8H153.2Z"/>
<path class="c" stroke="#0000f4" stroke-width="7.6" d="M154 794.2 159 797 165 802 184 810.5 247.3 816.1 266.4 817.6 332 819.5 362.2 813.4 378.8 809.9 398 808 405 808 411 800 414.5 780 418.5 722 421.5 682 423.6 672.3 425.2 680 427.5 722 432 748 438.8 759.4 443 767 447 760 450 720 452.4 690 454 678.8 455.6 690 458 750 460.5 772 464 782 474 794 498 801 526.2 803.2 546.2 806.1 574.5 807.9 590 806 597 800 603 756 604.2 700 606.9 400 609.5 150 609.9 144.5 610.3 150 611.6 400 612.7 700 613.6 756 616 780 619 795 624 800 630 795 634 780 637 773 643.6 776.4 650 781 657 795 664 805 671.1 809 714.4 820 758.5 826.1 795.2 829 814 829 819 822 823.5 798 828 788.4 851 788.3 856 795.7 862 802.5 866.8 803.5 868.4 803.5 870.1 803 870.9 802.3 872 800.8 872.6 799.2 873.4 795.4 874.3 788.1 875.1 775.3 875.9 765.8 876.8 775.6 877.6 788.7 878.4 796.4 879.3 800.5 880.1 802.9 880.9 804.4 882.6 806.2 885.1 808.3 890.9 811.5 911.7 817.3 924.2 819.9 934.2 821.7 943.4 821.7 946.7 821.2 948.4 820.6 949.2 820.1 950 819.3 950.9 818.1 951.7 816 952.5 812.3 953.4 805.2 954.2 792.8 955 783.6 955.9 792.8 956.7 805.2 957.5 812.4 958.4 816.2 959.2 818.3 960 819.6 960.9 820.4 962.5 821.3 965 821.9 968.4 821.8 970 821.3 971.7 820.2 972.5 819.1 973.4 817.4 974.2 814.6 975 810.1 975.8 804.1 976.7 800.8 977.5 804.2 978.3 810.3 979.2 814.9 980 817.8 980.8 819.7 981.7 820.9 983.3 822.2 985.8 823.2 991.7 824.1 1012.5 825.4 1022.5 825.4 1025.8 824.9 1027.5 824.3 1028.3 823.7 1029.1 822.9 1030 821.6 1030.8 819.5 1031.6 815.8 1032.5 809.4 1033.3 799.8 1034.1 793.8 1035 799.9 1035.8 809.6 1036.6 816.1 1037.5 819.8 1038.3 822.1 1039.1 823.4 1040 824.4 1041.6 825.5 1045 826.5 1053.3 827.5 1075.8 828.3 1112.4 829.1 1117.4 828.6 1119.1 828 1120.7 826.8 1121.6 825.8 1122.4 824.1 1123.2 821.3 1124.1 816.9 1124.9 811.1 1125.7 807.8 1126.6 811.1 1127.4 817 1128.2 821.5 1129.1 824.4 1129.9 826.2 1130.7 827.3 1132.4 828.6 1134.9 829.6 1140.7 830.4 1166 831.9 1207.3 831.7 1213.2 831.3 1215.7 830.5 1216.5 829.9 1217.3 828.8 1218.2 826.7 1219 823.2 1219.8 820.5 1220.7 823.1 1221.5 826.6 1222.3 828.7 1223.2 829.7 1224 830.3 1226.5 830.9 1230.6 830.7 1233.1 830.2 1234.8 829.4 1235.6 828.8 1236.5 827.9 1237.3 826.6 1238.1 824.5 1239 821.1 1239.8 814.9 1240.6 803.2 1241.5 782.9 1242.3 767.8 1243.1 782.9 1244 803.2 1244.8 814.9 1245.6 821.1 1246.5 824.6 1247.3 826.6 1248.1 828 1249 828.9 1250.6 829.9 1254 830.9 1261.5 831.6 1293.1 831.9 1325 831.9 1345 821.9 1358 821.5 1362.2 820.8 1363.9 820.1 1364.7 819.5 1365.5 818.6 1366.4 817.2 1367.2 814.9 1368 811.2 1368.9 806.5 1369.7 803.8 1370.5 806.5 1371.4 811.2 1372.2 814.9 1373 817.2 1373.9 818.6 1374.7 819.5 1376.4 820.5 1379.7 821.3 1385 821.7 1400 830.9 1428.8 831.4 1457.1 831.9 1486.3 831.6 1494.6 830.7 1497.9 829.9 1500.4 828.6 1501.3 827.9 1502.1 826.9 1502.9 825.5 1503.8 823.4 1504.6 820.3 1505.4 815.5 1506.3 808.4 1507.1 800.1 1507.9 795.8 1508.8 800.1 1509.6 808.3 1510.4 815.3 1511.3 820.1 1512.1 823.2 1512.9 825.2 1513.8 826.6 1514.6 827.5 1516.3 828.7 1518.8 829.6 1523.7 830.1 1537.9 830.1 1550 829.9 1554 821.9 1557.5 799.9 1561 795.4 1565 799.9 1570 811.9 1576.2 820.1 1584 827 1592 832 1603.7 833 1677 832.9 1703.6 832 1708 832 1712 822 1716 811 1724 810 1729 803 1732 793 1735 803 1738 825 1742 832 1793.5 833 1840.2 833 1845 832 1850 822 1868 821 1873.3 811 1878 821 1884 830 1894.3 832 1920 832 1928 822 1939 822 1946 831 1980.9 833.7 2016.7 837 2034 836 2042.5 827.5"/>
<path fill="#0000f4" d="M604.2 700 L606.9 400 L609.9 146 L611.6 400 L612.7 700 L613.6 790 L603 790Z"/>
<path fill="#0000f4" d="M426 680L428.5 705.8L433 719.2L437.4 739.3L440.8 748.2L444.1 748.2L447.5 735L451.9 756L447.5 784L441.9 787.3L437.4 782.8L430.7 772.8L427.4 750.4L424.6 732.6Z"/>
<path fill="#ff0000" d="M153.2 998.6H156.5V998.8H159.9V997.4H163.2V996.1H166.5V993.4H169.9V989.7H173.2V989.4H176.5V991.9H179.9V994.1H183.2V997.7H186.5V1000.8H189.8V1004.4H193.2V1000.8H196.5V1000.7H199.8V1004H203.2V999H206.5V1001.4H209.8V1004.3H213.2V1003.6H216.5V999.9H219.8V996.6H223.2V997H226.5V1002H229.8V1001H233.1V1000.2H236.5V998.6H239.8V995.1H243.1V993.7H246.5V994.5H249.8V992.7H253.1V992.3H256.5V990.6H259.8V992.1H263.1V993.5H266.5V994.4H269.8V994.7H273.1V996.5H276.4V997.7H279.8V1000H283.1V1000.9H286.4V1005.8H289.8V1007.7H293.1V1011.3H296.4V1009.9H299.8V1009.3H303.1V1007.4H306.4V1004.6H309.8V1002.9H313.1V1001.8H316.4V1003.1H319.7V1007.1H323.1V1010.8H326.4V1002.2H329.7V985.6H333.1V966.1H336.4V966.6H339.7V987.4H343.1V1003.6H346.4V1010.4H349.7V995.6H353.1V995.9H356.4V998.6H359.7V1003.1H363V1004H366.4V1003.3H369.7V1005.6H373V1008.4H376.4V1008.6H379.7V1009.7H383V1007.3H386.4V1011.7H389.7V1012.7H393V1012.4H396.4V1013.4H399.7V1011.9H403V1011.3H406.3V1019.5H409.7V1012.3H413V989.3H416.3V936.2H419.7V898.9H423V897.7H426.3V934.9H429.7V955.3H433V967.9H436.3V974.9H439.7V979H443V966H446.3V934.4H449.6V891.5H453V889.9H456.3V953.9H459.6V982.3H463V989.9H466.3V987.1H469.6V987.2H473V990.2H476.3V991H479.6V986.3H483V988.5H486.3V995.7H489.6V994.6H492.9V994.3H496.3V998.5H499.6V998.1H502.9V999H506.3V997.9H509.6V998H512.9V996.8H516.3V996.6H519.6V996.7H522.9V998.5H526.2V999H529.6V993.3H532.9V995.3H536.2V996.6H539.6V997.4H542.9V996.2H546.2V998H549.6V998.7H552.9V998.4H556.2V996.8H559.6V991.4H562.9V992.3H566.2V997H569.5V996.7H572.9V997.3H576.2V994.8H579.5V991.4H582.9V986.5H586.2V988.6H589.5V994H592.9V1008H596.2V1002.1H599.5V967.4H602.9V822.9H606.2V733H609.5V797.7H612.8V958.3H616.2V984.1H619.5V1001.2H622.8V1008.2H626.2V999.3H629.5V994.6H632.8V986.6H636.2V985.7H639.5V990.9H642.8V990.8H646.2V991.1H649.5V995.8H652.8V997.3H656.1V998.9H659.5V996.8H662.8V998.6H666.1V1000.2H669.5V1003.8H672.8V1006.3H676.1V996.8H679.5V987.1H682.8V991.3H686.1V1003.1H689.5V1012.5H692.8V1009.7H696.1V1015.3H699.4V1015.5H702.8V1014.1H706.1V1015.8H709.4V1017.3H712.8V1017.7H716.1V1012.3H719.4V1014.4H722.8V1014.4H726.1V1015.1H729.4V1020.9H732.8V1021.5H736.1V1020.1H739.4V1020.9H742.7V1020.6H746.1V1019.8H749.4V1018.9H752.7V1023.3H756.1V1021.6H759.4V1018.3H762.7V1017.5H766.1V1018.3H769.4V1023.7H772.7V1023.5H776.1V1022H779.4V1024.2H782.7V1019.1H786V1021.2H789.4V1022.4H792.7V1022H796V1025.1H799.4V1024.5H802.7V1024.6H806V1025.3H809.4V1024.6H812.7V1024.9H816V1028.7H819.4V1018.4H822.7V1006.9H826V996.2H829.3V988.4H832.7V984.2H836V984.2H839.3V985.2H842.7V987.9H846V988.7H849.3V992.3H852.7V991.6H856V993.1H859.3V996H862.7V993.3H866V992.1H869.3V1005.9H872.6V993.7H876V986.2H879.3V1005.9H882.6V1003.1H886V996.3H889.3V1000.2H892.6V1005.9H896V1006.8H899.3V1008.2H902.6V1008.3H905.9V1008.1H909.3V1008H912.6V1010.4H915.9V1015.5H919.3V1015.1H922.6V1018.1H925.9V1020.3H929.3V1020.6H932.6V1019.1H935.9V1017.5H939.3V1017.6H942.6V1017.3H945.9V1020.7H949.2V1023.6H952.6V1001.8H955.9V1010.6H959.2V1024.8H962.6V1013.1H965.9V1015.1H969.2V1026H972.6V1021.4H975.9V1005.2H979.2V1018.4H982.6V1025.8H985.9V1017.8H989.2V1018.6H992.5V1017.9H995.9V1018.5H999.2V1019.8H1002.5V1018H1005.9V1019H1009.2V1018.7H1012.5V1019.7H1015.9V1021.2H1019.2V1020.7H1022.5V1022.9H1025.9V1027.8H1029.2V1021.9H1032.5V996.5H1035.8V1017.7H1039.2V1027.8H1042.5V1020.4H1045.8V1020.2H1049.2V1021.5H1052.5V1019.7H1055.8V1021.2H1059.2V1022.3H1062.5V1021.2H1065.8V1022H1069.2V1023.6H1072.5V1023.9H1075.8V1025.9H1079.1V1025.8H1082.5V1024.7H1085.8V1023.3H1089.1V1023.7H1092.5V1025.1H1095.8V1026.1H1099.1V1028H1102.5V1026H1105.8V1026.3H1109.1V1027.4H1112.5V1029.1H1115.8V1035.1H1119.1V1030.1H1122.4V1020.9H1125.8V1032.8H1129.1V1032.6H1132.4V1028.8H1135.8V1026H1139.1V1027.4H1142.4V1028.5H1145.8V1029.1H1149.1V1032H1152.4V1032.6H1155.8V1032.5H1159.1V1031.4H1162.4V1028.8H1165.7V1029.5H1169.1V1028.7H1172.4V1030.8H1175.7V1031.3H1179.1V1032.4H1182.4V1031.5H1185.7V1029.8H1189.1V1029.5H1192.4V1031.4H1195.7V1032.2H1199.1V1031H1202.4V1032.3H1205.7V1030.8H1209V1030.1H1212.4V1038.2H1215.7V1030.3H1219V1033.4H1222.4V1038.4H1225.7V1031H1229V1028.8H1232.4V1037.1H1235.7V1033H1239V999.8H1242.3V1013.3H1245.7V1035H1249V1033.3H1252.3V1031.7H1255.7V1030.7H1259V1031.2H1262.3V1030.7H1265.7V1031.8H1269V1032.8H1272.3V1034.9H1275.7V1033.2H1279V1032H1282.3V1032.8H1285.6V1030.1H1289V1030.1H1292.3V1028.6H1295.6V1027.5H1299V1029.8H1302.3V1033.2H1305.6V1032.8H1309V1033.7H1312.3V1033.3H1315.6V1031.9H1319V1032.3H1322.3V1030.9H1325.6V1029.8H1328.9V1028.3H1332.3V1027.5H1335.6V1024.1H1338.9V1024.6H1342.3V1021.2H1345.6V1020.7H1348.9V1019.1H1352.3V1015.7H1355.6V1015.6H1358.9V1013.5H1362.3V1017.1H1365.6V1022.1H1368.9V1013.2H1372.2V1021.2H1375.6V1026.7H1378.9V1019.7H1382.2V1021.3H1385.6V1022H1388.9V1021.7H1392.2V1025.7H1395.6V1030.7H1398.9V1032.2H1402.2V1032.1H1405.6V1028.8H1408.9V1027.5H1412.2V1026.4H1415.5V1025.7H1418.9V1024.3H1422.2V1026.6H1425.5V1027.3H1428.9V1027.5H1432.2V1029H1435.5V1027.9H1438.9V1030.4H1442.2V1030.1H1445.5V1029.1H1448.9V1031.1H1452.2V1027.6H1455.5V1027H1458.8V1028.2H1462.2V1029.3H1465.5V1028.7H1468.8V1028H1472.2V1026.3H1475.5V1026H1478.8V1026.7H1482.2V1030.6H1485.5V1030.8H1488.8V1030.3H1492.2V1030.2H1495.5V1029.5H1498.8V1031.8H1502.1V1032.6H1505.5V1018H1508.8V1012.6H1512.1V1030.6H1515.5V1035.4H1518.8V1028.8H1522.1V1031.9H1525.5V1025.4H1528.8V1028.6H1532.1V1029.3H1535.5V1029.5H1538.8V1029.8H1542.1V1027.5H1545.4V1033.9H1548.8V1035.6H1552.1V1025.3H1555.4V1005.2H1558.8V998.3H1562.1V1000H1565.4V1008.2H1568.8V1016.6H1572.1V1018.9H1575.4V1021.7H1578.8V1023.4H1582.1V1025.5H1585.4V1028.5H1588.7V1030.1H1592.1V1032.3H1595.4V1032.2H1598.7V1031.5H1602.1V1031.6H1605.4V1031.1H1608.7V1030.8H1612.1V1030.6H1615.4V1032.3H1618.7V1031.5H1622V1028.9H1625.4V1029.5H1628.7V1031.4H1632V1032.4H1635.4V1030.2H1638.7V1028.9H1642V1029.3H1645.4V1031.1H1648.7V1030.5H1652V1031.4H1655.4V1032.1H1658.7V1031.7H1662V1031.1H1665.3V1028.7H1668.7V1029.4H1672V1029.2H1675.3V1033.4H1678.7V1031.8H1682V1032.5H1685.3V1033.3H1688.7V1032.8H1692V1032.4H1695.3V1032.4H1698.7V1031.8H1702V1031.1H1705.3V1035.3H1708.6V1032.5H1712V1022.8H1715.3V1015.3H1718.6V1002.8H1722V1002.1H1725.3V999.8H1728.6V1002.3H1732V1010.4H1735.3V1026.8H1738.6V1037.3H1742V1035.7H1745.3V1035.3H1748.6V1034.8H1751.9V1034.3H1755.3V1031.7H1758.6V1031.6H1761.9V1033.2H1765.3V1033.5H1768.6V1033.2H1771.9V1034.9H1775.3V1035.3H1778.6V1029.5H1781.9V1030.3H1785.3V1033.6H1788.6V1034.2H1791.9V1033H1795.2V1030.5H1798.6V1032.3H1801.9V1034.9H1805.2V1033.8H1808.6V1033.8H1811.9V1035.8H1815.2V1035H1818.6V1036.1H1821.9V1035.4H1825.2V1036.3H1828.6V1036H1831.9V1034.9H1835.2V1032H1838.5V1033.9H1841.9V1035H1845.2V1032H1848.5V1026.9H1851.9V1025.7H1855.2V1020.5H1858.5V1020H1861.9V1021.8H1865.2V1023.5H1868.5V1013.6H1871.9V1016H1875.2V1026.2H1878.5V1031.5H1881.8V1029.3H1885.2V1032.7H1888.5V1032H1891.8V1032.2H1895.2V1030.7H1898.5V1031.9H1901.8V1030.9H1905.2V1031.7H1908.5V1032.9H1911.8V1031.4H1915.2V1029.6H1918.5V1029.4H1921.8V1032.3H1925.1V1028.8H1928.5V1024.2H1931.8V1022.4H1935.1V1023.3H1938.5V1027.2H1941.8V1032H1945.1V1032.1H1948.5V1030.7H1951.8V1031.9H1955.1V1031.9H1958.4V1032.4H1961.8V1032.5H1965.1V1033.6H1968.4V1033.3H1971.8V1034.5H1975.1V1036.1H1978.4V1035.6H1981.8V1035.1H1985.1V1034.7H1988.4V1031.8H1991.8V1031.6H1995.1V1033.1H1998.4V1033.5H2001.7V1033.3H2005.1V1034.4H2008.4V1035.2H2011.7V1036.5H2015.1V1035.3H2018.4V1032.8H2021.7V1033.7H2025.1V1034.3H2028.4V1035H2031.7V1033.2H2035.1V1032.8H2038.4V1036H2041.7V1038.3H2045V1055.5H2041.7V1052.5H2038.4V1051.2H2035.1V1050.2H2031.7V1051.4H2028.4V1052.1H2025.1V1052.7H2021.7V1050.8H2018.4V1051.8H2015.1V1051.7H2011.7V1051H2008.4V1050H2005.1V1050H2001.7V1049.5H1998.4V1050.5H1995.1V1053.4H1991.8V1051.1H1988.4V1052.1H1985.1V1051.1H1981.8V1051.4H1978.4V1053.3H1975.1V1052.2H1971.8V1051.3H1968.4V1049H1965.1V1047.4H1961.8V1047.7H1958.4V1048H1955.1V1046.8H1951.8V1048.8H1948.5V1049.2H1945.1V1049.1H1941.8V1042H1938.5V1038.3H1935.1V1037.7H1931.8V1038.5H1928.5V1043.3H1925.1V1052H1921.8V1051.5H1918.5V1048.2H1915.2V1047.4H1911.8V1048.5H1908.5V1047.6H1905.2V1051.1H1901.8V1052.1H1898.5V1048.5H1895.2V1047.8H1891.8V1047.8H1888.5V1048.5H1885.2V1045H1881.8V1036.5H1878.5V1026.2H1875.2V1016H1871.9V1013.6H1868.5V1023.5H1865.2V1035.2H1861.9V1040.8H1858.5V1044.4H1855.2V1043.2H1851.9V1044.8H1848.5V1047.6H1845.2V1049H1841.9V1051.4H1838.5V1051.6H1835.2V1049.9H1831.9V1051.4H1828.6V1051.6H1825.2V1051.7H1821.9V1051.1H1818.6V1052H1815.2V1049.8H1811.9V1050.3H1808.6V1050.2H1805.2V1050.1H1801.9V1050.3H1798.6V1048.9H1795.2V1049.5H1791.9V1050.5H1788.6V1050.1H1785.3V1049.4H1781.9V1049.3H1778.6V1051.2H1775.3V1051.7H1771.9V1049.9H1768.6V1051.1H1765.3V1050.3H1761.9V1050.3H1758.6V1051.4H1755.3V1051.3H1751.9V1049.4H1748.6V1049.7H1745.3V1047.5H1742V1037.3H1738.6V1026.8H1735.3V1010.4H1732V1008.7H1728.6V1017H1725.3V1020.5H1722V1022H1718.6V1016.6H1715.3V1023.9H1712V1033.7H1708.6V1042.5H1705.3V1047.7H1702V1048.5H1698.7V1049.4H1695.3V1049.3H1692V1049.2H1688.7V1049.3H1685.3V1048.6H1682V1048.1H1678.7V1048.1H1675.3V1048.4H1672V1047.3H1668.7V1048.1H1665.3V1047.4H1662V1046.5H1658.7V1050H1655.4V1049.7H1652V1048.4H1648.7V1049.2H1645.4V1046H1642V1047.2H1638.7V1048.5H1635.4V1049.2H1632V1050.7H1628.7V1052.2H1625.4V1049.5H1622V1051.8H1618.7V1050.8H1615.4V1051H1612.1V1048.4H1608.7V1046H1605.4V1046.5H1602.1V1047H1598.7V1047H1595.4V1047.4H1592.1V1047.5H1588.7V1044.3H1585.4V1042H1582.1V1038.9H1578.8V1035.5H1575.4V1029.8H1572.1V1022H1568.8V1013.4H1565.4V1005.3H1562.1V998.3H1558.8V1005.2H1555.4V1025.3H1552.1V1035.6H1548.8V1043H1545.4V1044.5H1542.1V1046.8H1538.8V1047.9H1535.5V1048.5H1532.1V1047.9H1528.8V1048.4H1525.5V1047.6H1522.1V1045.2H1518.8V1036.2H1515.5V1030.6H1512.1V1012.6H1508.8V1018H1505.5V1032.6H1502.1V1041.8H1498.8V1050.5H1495.5V1049.1H1492.2V1047.9H1488.8V1046.1H1485.5V1048.6H1482.2V1049.3H1478.8V1045H1475.5V1046H1472.2V1045.2H1468.8V1045.8H1465.5V1045.6H1462.2V1046.2H1458.8V1047.2H1455.5V1046.6H1452.2V1047.2H1448.9V1047.5H1445.5V1047.9H1442.2V1047.2H1438.9V1046.5H1435.5V1044H1432.2V1045.2H1428.9V1042.9H1425.5V1043.8H1422.2V1044.4H1418.9V1044.1H1415.5V1044H1412.2V1046.2H1408.9V1046.8H1405.6V1048.2H1402.2V1049.3H1398.9V1047H1395.6V1044.1H1392.2V1042.6H1388.9V1039.1H1385.6V1038H1382.2V1036.6H1378.9V1026.7H1375.6V1021.2H1372.2V1013.2H1368.9V1022.1H1365.6V1030.9H1362.3V1033.5H1358.9V1034.7H1355.6V1033.9H1352.3V1035.9H1348.9V1037.7H1345.6V1042.2H1342.3V1043.8H1338.9V1041.7H1335.6V1042.9H1332.3V1046.3H1328.9V1050.2H1325.6V1052H1322.3V1052.5H1319V1051H1315.6V1050.5H1312.3V1050.1H1309V1050.7H1305.6V1050.8H1302.3V1050.6H1299V1049.2H1295.6V1044.8H1292.3V1046.9H1289V1049.8H1285.6V1051H1282.3V1049.7H1279V1053.3H1275.7V1055.4H1272.3V1049H1269V1048.2H1265.7V1046.5H1262.3V1048.2H1259V1049.5H1255.7V1049.7H1252.3V1044.1H1249V1035H1245.7V1013.3H1242.3V999.8H1239V1033H1235.7V1037.8H1232.4V1051.3H1229V1052.7H1225.7V1038.4H1222.4V1033.4H1219V1030.3H1215.7V1038.2H1212.4V1050.7H1209V1053.2H1205.7V1050.6H1202.4V1048.7H1199.1V1047.3H1195.7V1046.8H1192.4V1047.4H1189.1V1050.1H1185.7V1049.2H1182.4V1048.7H1179.1V1047.9H1175.7V1048.2H1172.4V1048.3H1169.1V1047.7H1165.7V1046H1162.4V1050H1159.1V1050.1H1155.8V1048.9H1152.4V1049.5H1149.1V1047.2H1145.8V1046.3H1142.4V1045.1H1139.1V1047.8H1135.8V1046.9H1132.4V1041.3H1129.1V1032.8H1125.8V1020.9H1122.4V1030.1H1119.1V1035.1H1115.8V1044.8H1112.5V1046.4H1109.1V1045H1105.8V1047H1102.5V1044.3H1099.1V1045.1H1095.8V1046.6H1092.5V1042.9H1089.1V1042.9H1085.8V1043.3H1082.5V1044.5H1079.1V1045H1075.8V1043.3H1072.5V1042.8H1069.2V1041H1065.8V1039.8H1062.5V1040.3H1059.2V1038.6H1055.8V1037.7H1052.5V1038.5H1049.2V1040.1H1045.8V1039.6H1042.5V1027.8H1039.2V1017.7H1035.8V996.5H1032.5V1021.9H1029.2V1027.8H1025.9V1041.7H1022.5V1040.4H1019.2V1038.4H1015.9V1040.9H1012.5V1041.1H1009.2V1038.1H1005.9V1036.2H1002.5V1037.2H999.2V1036.5H995.9V1037.4H992.5V1038H989.2V1038.7H985.9V1025.8H982.6V1018.4H979.2V1005.2H975.9V1021.4H972.6V1026H969.2V1036.7H965.9V1036.8H962.6V1024.8H959.2V1010.6H955.9V1001.8H952.6V1023.6H949.2V1031.8H945.9V1037.4H942.6V1037.9H939.3V1039.3H935.9V1037.1H932.6V1037.1H929.3V1040.5H925.9V1040.8H922.6V1034.5H919.3V1034.7H915.9V1032.5H912.6V1029.8H909.3V1029.2H905.9V1029.2H902.6V1026.4H899.3V1024.5H896V1024.3H892.6V1025.1H889.3V1020.3H886V1016H882.6V1005.9H879.3V986.2H876V993.7H872.6V1005.9H869.3V1016.7H866V1015.4H862.7V1016.8H859.3V1019H856V1016.5H852.7V1010.5H849.3V1009.6H846V1009.8H842.7V1007.1H839.3V1004.4H836V1003.3H832.7V1004.2H829.3V1004.4H826V1006.9H822.7V1018.4H819.4V1028.7H816V1041H812.7V1042H809.4V1044.2H806V1044.6H802.7V1045.1H799.4V1042.9H796V1045.4H792.7V1045.8H789.4V1044.9H786V1043.4H782.7V1044.4H779.4V1042.7H776.1V1040.7H772.7V1041.9H769.4V1043.9H766.1V1043.6H762.7V1041.3H759.4V1042.7H756.1V1041.1H752.7V1039.6H749.4V1040.4H746.1V1039.4H742.7V1040.7H739.4V1041.4H736.1V1041.9H732.8V1043.1H729.4V1041.2H726.1V1038.4H722.8V1037.9H719.4V1040.2H716.1V1040.7H712.8V1037.7H709.4V1037.3H706.1V1034.4H702.8V1033.8H699.4V1033H696.1V1031.9H692.8V1012.5H689.5V1003.1H686.1V991.3H682.8V988.9H679.5V998.5H676.1V1008H672.8V1014.5H669.5V1022.3H666.1V1021.7H662.8V1023.4H659.5V1021.9H656.1V1020H652.8V1017.8H649.5V1018.1H646.2V1015.7H642.8V1011.6H639.5V1002.2H636.2V1006.6H632.8V1014.9H629.5V1018.1H626.2V1008.2H622.8V1001.2H619.5V984.1H616.2V958.3H612.8V797.7H609.5V733H606.2V822.9H602.9V967.4H599.5V1002.1H596.2V1008H592.9V1021.6H589.5V1017H586.2V1013.9H582.9V1017.1H579.5V1019.6H576.2V1021.2H572.9V1023H569.5V1023.6H566.2V1025.4H562.9V1021.6H559.6V1021H556.2V1021.3H552.9V1021.1H549.6V1022.8H546.2V1020.2H542.9V1020.5H539.6V1022.2H536.2V1023.8H532.9V1021.8H529.6V1023.3H526.2V1022.4H522.9V1021.3H519.6V1021.6H516.3V1019.3H512.9V1022.5H509.6V1026.4H506.3V1020.8H502.9V1025.7H499.6V1025.6H496.3V1021H492.9V1021.5H489.6V1018H486.3V1019.1H483V1016.1H479.6V1014.7H476.3V1016.3H473V1013.8H469.6V1005.3H466.3V989.9H463V982.3H459.6V953.9H456.3V889.9H453V891.5H449.6V934.4H446.3V966H443V979H439.7V978.8H436.3V967.9H433V955.3H429.7V934.9H426.3V897.7H423V898.9H419.7V936.2H416.3V989.3H413V1012.3H409.7V1019.5H406.3V1036.5H403V1038.4H399.7V1036.5H396.4V1038.2H393V1038.7H389.7V1037.6H386.4V1036.9H383V1035.6H379.7V1035.1H376.4V1034.1H373V1032.7H369.7V1033.4H366.4V1032.4H363V1028.5H359.7V1025.8H356.4V1022.3H353.1V1024.5H349.7V1010.4H346.4V1003.6H343.1V987.4H339.7V966.6H336.4V966.1H333.1V985.6H329.7V1002.2H326.4V1010.8H323.1V1024.6H319.7V1028.8H316.4V1028H313.1V1029.1H309.8V1031.1H306.4V1032.3H303.1V1035.1H299.8V1037.3H296.4V1033.6H293.1V1031.1H289.8V1027.7H286.4V1027.3H283.1V1026.9H279.8V1024.8H276.4V1023.2H273.1V1020.1H269.8V1022H266.5V1019H263.1V1016.1H259.8V1016.8H256.5V1015.8H253.1V1017.1H249.8V1016.4H246.5V1017.5H243.1V1020H239.8V1022.6H236.5V1023.4H233.1V1026.3H229.8V1026.5H226.5V1026.9H223.2V1026.3H219.8V1028.4H216.5V1028.3H213.2V1026.9H209.8V1028.6H206.5V1027.7H203.2V1030.5H199.8V1028H196.5V1029H193.2V1029.6H189.8V1028.6H186.5V1025.2H183.2V1022.5H179.9V1016.2H176.5V1011.8H173.2V1018.9H169.9V1021.9H166.5V1021.9H163.2V1021.8H159.9V1021.6H156.5V1022.3H153.2Z"/>
<path class="c" stroke="#ff0000" stroke-width="7.6" d="M154 1011.5 165 1010 174 1003 179.8 1007.5 190 1014 211.5 1015.9 235 1013 245.6 1006.8 257 1002 270 1008 280 1016 297.2 1019 321.4 1017 322 1017 328 1004.9 332 985 335 965 336.8 960.1 339 968 342 990 346 1008 352 1014 363 1016.3 391.3 1025 405 1024 411 1016 414.5 1000 417 960 420 908 423.6 888.8 425.5 898 428 935 432.5 960 437.1 974.2 440.5 982 444.5 972 448.5 935 451.5 890 453.6 875.8 455.5 890 458 955 461 982 466 992 474 1000 498 1008 545.4 1010.9 583.7 1006.2 585 1006 592 1009 594 1009 598 1005 600.5 990 601.4 970 603 940 604.2 860 605 800 606.3 760 608.3 722 608.6 719.5 608.9 722 610.8 760 612 800 612.7 860 613.1 900 613.4 945 616.2 970 619 990 622 1004 626 1010 631.1 1003.8 637 993 643 1003 655.3 1010.1 663 1013 672 1010 675 1008 679 995 682.7 984.5 686.1 995.3 690 1010 697 1022 708 1026 757.7 1032 801 1032.9 815 1032 819 1028 824 1008 830 996.9 837 993.9 848 997.9 857 1003.8 865.9 1006.5 868.4 1006.9 870.1 1006.7 870.9 1006.4 872 1005.6 872.6 1004.7 873.4 1002.8 874.3 999.2 875.1 992.4 875.9 980.6 876.8 971.8 877.6 980.7 878.4 992.7 879.3 999.7 880.1 1003.4 880.9 1005.5 882 1007.1 883.4 1008.7 885.9 1010.5 891.7 1013.5 906.7 1019.6 928 1027.8 942.5 1027.5 946.7 1027 949.2 1026.1 950 1025.5 950.9 1024.6 951.7 1023.2 952.5 1021 953.4 1016.9 954.2 1009.1 955 995.6 955.9 985.6 956.7 995.6 957.5 1009 958.4 1016.8 959.2 1020.9 960 1023.2 960.9 1024.5 961.7 1025.4 963.4 1026.3 965.9 1026.8 969.2 1026.7 971.7 1025.9 972.5 1025.3 973.4 1024.4 974.2 1023 975 1020.9 975.8 1017.4 976.7 1011.7 977.5 1004.4 978.3 1000.3 979.2 1004.4 980 1011.8 980.8 1017.5 981.7 1021.1 982.5 1023.3 983.3 1024.7 984.2 1025.6 985.8 1026.8 988.3 1027.6 994.2 1028.3 1016.7 1029.4 1023.3 1029.2 1026.6 1028.5 1028.3 1027.7 1029.1 1026.9 1030 1025.8 1030.8 1024.1 1031.6 1021.2 1032.5 1016.4 1033.3 1007.9 1034.1 995.4 1035 987.4 1035.8 995.4 1036.6 1008.1 1037.5 1016.7 1038.3 1021.6 1039.1 1024.5 1040 1026.3 1040.8 1027.5 1042.5 1029 1045 1030.1 1050 1031 1094.1 1035.4 1105.7 1036.1 1114.1 1036.1 1116.6 1035.7 1118.2 1035 1119.1 1034.4 1119.9 1033.4 1120.7 1031.9 1121.6 1029.5 1122.4 1025.5 1123.2 1020.3 1124.1 1017.4 1124.9 1020.4 1125.7 1025.7 1126.6 1029.8 1127.4 1032.3 1128.2 1033.9 1129.1 1035 1130.7 1036.2 1133.2 1037.1 1139.9 1038.1 1166.5 1039.9 1205.7 1039.7 1211.5 1039.2 1214 1038.5 1214.8 1038 1215.7 1037.2 1216.5 1035.7 1217.3 1032.9 1218.2 1028.1 1219 1024.5 1219.8 1028.1 1220.7 1032.9 1221.5 1035.6 1222.3 1037.1 1223.2 1037.8 1224.8 1038.6 1228.1 1038.9 1232.3 1038.4 1234.8 1037.4 1235.6 1036.7 1236.5 1035.8 1237.3 1034.5 1238.1 1032.5 1239 1029 1239.8 1022.7 1240.6 1010.9 1241.5 990.4 1242.3 975.2 1243.1 990.4 1244 1010.9 1244.8 1022.8 1245.6 1029 1246.5 1032.5 1247.3 1034.6 1248.1 1035.9 1249 1036.8 1250.6 1037.9 1254 1038.9 1261.5 1039.6 1292.3 1039.9 1325 1039.9 1345 1029.8 1358.9 1026.2 1362.2 1025.1 1364.7 1024.7 1366.4 1023.9 1367.2 1023.1 1368 1021.8 1368.9 1019.6 1369.7 1016.5 1370.5 1012.7 1371.4 1010.8 1372.2 1013 1373 1017 1373.9 1020.5 1374.7 1022.9 1375.5 1024.5 1376.4 1025.6 1378 1027 1380.5 1028.2 1385 1029.5 1400 1037.9 1423 1037 1479.6 1038.8 1492.9 1038.2 1497.9 1037.5 1500.4 1036.6 1502.1 1035.6 1502.9 1034.8 1503.8 1033.7 1504.6 1032.1 1505.4 1029.9 1506.3 1026.7 1507.1 1021.9 1507.9 1015.3 1508.8 1008.2 1509.6 1004.8 1510.4 1008.2 1511.3 1015.3 1512.1 1021.9 1512.9 1026.7 1513.8 1029.9 1514.6 1032.1 1515.4 1033.7 1516.3 1034.8 1517.9 1036.2 1520.4 1037.3 1525.4 1038.2 1531.2 1038.5 1547.1 1037.8 1550 1037.9 1554 1027.9 1557.5 1002.9 1560.6 996.9 1564.5 1003.1 1570 1017.9 1576 1027.9 1584 1035 1592 1039 1645.3 1039.6 1685.3 1040 1708 1040 1712 1030 1716 1017 1722.8 1012.4 1727 1009 1731 1004.5 1735 1012 1738 1032 1742 1040 1754.4 1042 1840.2 1042 1845 1041 1852 1034 1864 1030 1869 1020 1871.8 1008.5 1875.1 1020.4 1880 1034 1888 1040 1924 1040 1930 1031 1938 1031 1944 1040 1990.9 1043.1 2035 1044 2042.5 1044"/>
<path fill="#ff0000" d="M426.5 897L430.6 930.7L435.4 954.2L440.1 966L443 966L447 945L451.8 980L443.6 989.6L438.9 997.8L435.4 993.1L430.6 977.8L427.1 951.9L424.8 930Z"/>
<path fill="#ff0000" d="M603.2 940 L604.2 860 L605 800 L606.3 760 L608.6 721 L610.8 760 L612 800 L612.7 860 L613.3 945 L608.6 966Z"/>
<path fill="url(#fade)" stroke="url(#fade)" stroke-width="7" stroke-linejoin="round" d="M604.2 690 L604.2 700 L603.4 800 L613.6 800 L612.8 700 L612.7 690Z"/>
</g>
<g class="leg">
<rect x="1329.4" y="118.9" width="168" height="7.8" fill="#0000e0"/>
<rect x="1329.4" y="207.2" width="168" height="7.8" fill="#ff2020"/>
<rect x="1329.4" y="295.6" width="168" height="7.8" fill="#000"/>
</g>
</g>
<g filter="url(#softt)">
<g class="leg">
<text x="1511.5" y="147.8" letter-spacing="0.9">C5/BT-300</text>
<text x="1512" y="236.8">BT</text>
<text x="1511" y="324.8">Carbon</text>
</g>
<g class="tick"><text x="151.8" y="1499.5" text-anchor="middle">10</text><text x="422.1" y="1499.5" text-anchor="middle">20</text><text x="692.4" y="1499.5" text-anchor="middle">30</text><text x="962.7" y="1499.5" text-anchor="middle">40</text><text x="1233.1" y="1499.5" text-anchor="middle">50</text><text x="1503.4" y="1499.5" text-anchor="middle">60</text><text x="1773.7" y="1499.5" text-anchor="middle">70</text><text x="2044" y="1499.5" text-anchor="middle">80</text></g>
<text class="axl" y="1565"><tspan x="1015.5" y="1565.5" font-weight="bold" textLength="34.5" lengthAdjust="spacingAndGlyphs">2</tspan><tspan x="1049.3" y="1565" font-size="74px" fill="#2e2e2e" textLength="39.5" lengthAdjust="spacingAndGlyphs">θ</tspan><tspan x="1085.8" y="1565">(</tspan><tspan font-size="42px" dy="-35.5">o</tspan><tspan dy="35.5" dx="0.8">)</tspan></text>
<text class="axl" font-weight="bold" transform="translate(85.8 938) rotate(-90)">Relative intensity</text>
</g>
<rect x="146" y="32.3" width="2.9" height="1397.8" fill="#ededed"/><rect x="2047.8" y="32.3" width="3.2" height="1397.8" fill="#c8c8c8"/><rect x="152.3" y="25.6" width="1892.3" height="3.3" fill="#f4f4f4"/><rect x="152.3" y="1430.1" width="1892.3" height="3.3" fill="#f2f2f2"/><rect x="152.3" y="28.9" width="1892.3" height="3.9" fill="#5e5e5e"/><rect x="148.9" y="28.9" width="3.4" height="3.4" fill="#a8a8a8"/><rect x="2044.6" y="28.9" width="3.2" height="3.4" fill="#909090"/><rect x="148.9" y="32.3" width="1898.9" height="3.4" fill="#000"/><rect x="148.9" y="1426.3" width="1895.7" height="3.8" fill="#383838"/><rect x="148.9" y="1423.2" width="1898.9" height="3.6" fill="#000"/><rect x="2044.6" y="1426.8" width="3.2" height="3.3" fill="#707070"/><rect x="148.9" y="35.7" width="4" height="1387.5" fill="#303030"/><rect x="152.3" y="35.7" width="3.4" height="1387.5" fill="#000"/><rect x="2041" y="35.7" width="4.2" height="1387.5" fill="#282828"/><rect x="2044.6" y="35.7" width="3.2" height="1387.5" fill="#161616"/>
<rect x="284.9" y="1406.6" width="6.6" height="3.2" fill="#e4e4e4"/><rect x="284.9" y="1409.8" width="6.6" height="13.7" fill="#0c0c0c"/><rect x="420" y="1393" width="6.6" height="3.2" fill="#e4e4e4"/><rect x="420" y="1396.2" width="6.6" height="27.3" fill="#0c0c0c"/><rect x="555.2" y="1406.6" width="6.6" height="3.2" fill="#e4e4e4"/><rect x="555.2" y="1409.8" width="6.6" height="13.7" fill="#0c0c0c"/><rect x="690.3" y="1393" width="6.6" height="3.2" fill="#e4e4e4"/><rect x="690.3" y="1396.2" width="6.6" height="27.3" fill="#0c0c0c"/><rect x="825.5" y="1406.6" width="6.6" height="3.2" fill="#e4e4e4"/><rect x="825.5" y="1409.8" width="6.6" height="13.7" fill="#0c0c0c"/><rect x="960.6" y="1393" width="6.6" height="3.2" fill="#e4e4e4"/><rect x="960.6" y="1396.2" width="6.6" height="27.3" fill="#0c0c0c"/><rect x="1095.8" y="1406.6" width="6.6" height="3.2" fill="#e4e4e4"/><rect x="1095.8" y="1409.8" width="6.6" height="13.7" fill="#0c0c0c"/><rect x="1231" y="1393" width="6.6" height="3.2" fill="#e4e4e4"/><rect x="1231" y="1396.2" width="6.6" height="27.3" fill="#0c0c0c"/><rect x="1366.1" y="1406.6" width="6.6" height="3.2" fill="#e4e4e4"/><rect x="1366.1" y="1409.8" width="6.6" height="13.7" fill="#0c0c0c"/><rect x="1501.3" y="1393" width="6.6" height="3.2" fill="#e4e4e4"/><rect x="1501.3" y="1396.2" width="6.6" height="27.3" fill="#0c0c0c"/><rect x="1636.4" y="1406.6" width="6.6" height="3.2" fill="#e4e4e4"/><rect x="1636.4" y="1409.8" width="6.6" height="13.7" fill="#0c0c0c"/><rect x="1771.6" y="1393" width="6.6" height="3.2" fill="#e4e4e4"/><rect x="1771.6" y="1396.2" width="6.6" height="27.3" fill="#0c0c0c"/><rect x="1906.7" y="1406.6" width="6.6" height="3.2" fill="#e4e4e4"/><rect x="1906.7" y="1409.8" width="6.6" height="13.7" fill="#0c0c0c"/>
</svg>
</body>
</html>
